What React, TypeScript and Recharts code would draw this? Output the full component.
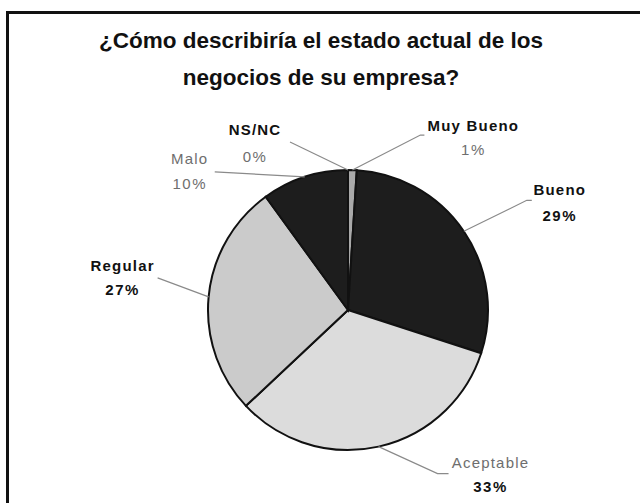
import { PieChart, Pie, Cell } from 'recharts';

const categories = ['Muy Bueno', 'Bueno', 'Aceptable', 'Regular', 'Malo', 'NS/NC'];
const shares = [1, 29, 33, 27, 10, 0];
const percentLabels = ['1%', '29%', '33%', '27%', '10%', '0%'];

const sliceColors = ['#a9a9a9', '#1d1d1d', '#dcdcdc', '#cbcbcb', '#1d1d1d', '#9a9a9a'];

// leader line: elbow offset from the slice edge, short horizontal tail, then text offset
const labelLayout = [
  { ex: 68, ey: -35, h: 4, tx: 49, ty: -10, ty2: 14, nameBold: true, pctBold: false, nameGray: false, pctGray: true },
  { ex: 63, ey: -31, h: 5, tx: 28, ty: -11, ty2: 15, nameBold: true, pctBold: true, nameGray: false, pctGray: false },
  { ex: 59, ey: 27, h: 11, tx: 42, ty: -11, ty2: 13, nameBold: false, pctBold: true, nameGray: true, pctGray: false },
  { ex: -51, ey: -19, h: 0, tx: -35, ty: -12, ty2: 12, nameBold: true, pctBold: true, nameGray: false, pctGray: false },
  { ex: -90, ey: -5, h: 0, tx: -25, ty: -13, ty2: 12, nameBold: false, pctBold: false, nameGray: true, pctGray: true },
  { ex: -58, ey: -28, h: 0, tx: -35, ty: -13, ty2: 14, nameBold: true, pctBold: false, nameGray: false, pctGray: true },
];

const data = categories.map((name, i) => ({ name, value: shares[i] }));

const FONT = '"Liberation Sans", Arial, sans-serif';
const RAD = Math.PI / 180;

function renderLabel(props: any) {
  const { cx, cy, midAngle, outerRadius, index } = props;
  const l = labelLayout[index];
  if (!l) return null;
  const sx = cx + outerRadius * Math.cos(-midAngle * RAD);
  const sy = cy + outerRadius * Math.sin(-midAngle * RAD);
  const ex = sx + l.ex;
  const ey = sy + l.ey;
  const hx = ex + (l.ex >= 0 ? l.h : -l.h);
  const lx = hx + l.tx;
  return (
    <g>
      <polyline points={`${sx},${sy} ${ex},${ey} ${hx},${ey}`} fill="none" stroke="#8a8a8a" strokeWidth={1.2} />
      <text
        x={lx}
        y={ey + l.ty}
        textAnchor="middle"
        dominantBaseline="central"
        fontFamily={FONT}
        fontSize={15}
        letterSpacing={1.2}
        fontWeight={l.nameBold ? 700 : 400}
        fill={l.nameGray ? '#6e6e6e' : '#111'}
      >
        {categories[index]}
      </text>
      <text
        x={lx}
        y={ey + l.ty2}
        textAnchor="middle"
        dominantBaseline="central"
        fontFamily={FONT}
        fontSize={15}
        letterSpacing={1.5}
        fontWeight={l.pctBold ? 700 : 400}
        fill={l.pctGray ? '#6e6e6e' : '#111'}
      >
        {percentLabels[index]}
      </text>
    </g>
  );
}

export default function App() {
  return (
    <div style={{ position: 'absolute', left: 0, top: 0, width: 640, height: 503, background: '#fff', overflow: 'hidden' }}>
      <div
        style={{
          position: 'absolute',
          left: 6,
          top: 11,
          width: 640,
          height: 520,
          borderTop: '3px solid #111',
          borderLeft: '3px solid #111',
        }}
      />
      <div
        style={{
          position: 'absolute',
          left: 0,
          top: 22,
          width: 642,
          textAlign: 'center',
          fontFamily: FONT,
          fontWeight: 700,
          fontSize: 22.5,
          lineHeight: '37px',
          color: '#111',
        }}
      >
        ¿Cómo describiría el estado actual de los
        <br />
        negocios de su empresa?
      </div>
      <div style={{ position: 'absolute', left: 0, top: 0 }}>
        <PieChart width={640} height={503} margin={{ top: 0, right: 0, bottom: 0, left: 0 }}>
          <Pie
            data={data}
            dataKey="value"
            nameKey="name"
            cx={348}
            cy={310}
            outerRadius={140}
            startAngle={90}
            endAngle={-270}
            stroke="#111"
            strokeWidth={2}
            label={renderLabel}
            labelLine={false}
            isAnimationActive={false}
          >
            {data.map((d, i) => (
              <Cell key={d.name} fill={sliceColors[i]} />
            ))}
          </Pie>
        </PieChart>
      </div>
    </div>
  );
}
